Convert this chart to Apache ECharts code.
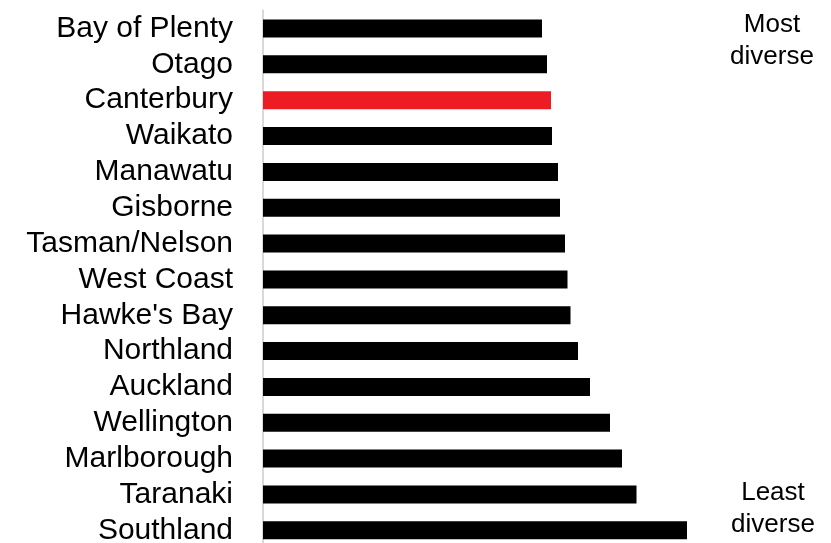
<!DOCTYPE html>
<html>
<head>
<meta charset="utf-8">
<script src="https://cdn.jsdelivr.net/npm/echarts@6/dist/echarts.min.js"></script>
<style>html,body{margin:0;padding:0;background:#fff;overflow:hidden}#c{width:831px;height:560px}</style>
</head>
<body>
<div id="c"></div>
<script>
const regions = ["Bay of Plenty","Otago","Canterbury","Waikato","Manawatu","Gisborne","Tasman/Nelson","West Coast","Hawke's Bay","Northland","Auckland","Wellington","Marlborough","Taranaki","Southland"];
const values = [279, 284, 288, 289, 295, 297, 302, 304.5, 307.5, 315, 327, 347, 359, 373.5, 424];
const highlight = "Canterbury";
const topNote = "Most\ndiverse";
const bottomNote = "Least\ndiverse";

const chart = echarts.init(document.getElementById('c'));
chart.setOption({
  animation: false,
  grid: {left: 263, right: 68, top: 10.6, height: 537.6, containLabel: false},
  xAxis: {type: 'value', min: 0, max: 500, show: false},
  yAxis: {
    type: 'category', data: regions, inverse: true,
    axisLine: {show: true, lineStyle: {color: '#d9d9d9', width: 2}},
    axisTick: {show: false},
    axisLabel: {interval: 0, color: '#000', fontFamily: 'Liberation Sans, Arial, sans-serif', fontSize: 30, margin: 30}
  },
  series: [{
    type: 'bar', barWidth: 18,
    data: regions.map((r, i) => ({value: values[i], itemStyle: {color: r === highlight ? '#ed1c24' : '#000'}}))
  }],
  graphic: [
    {type: 'text', x: 772, y: 9, style: {text: topNote, fill: '#000', font: '26px "Liberation Sans", Arial, sans-serif', align: 'center', verticalAlign: 'top', lineHeight: 32}},
    {type: 'text', x: 773, y: 477, style: {text: bottomNote, fill: '#000', font: '26px "Liberation Sans", Arial, sans-serif', align: 'center', verticalAlign: 'top', lineHeight: 32}}
  ]
});
</script>
</body>
</html>
